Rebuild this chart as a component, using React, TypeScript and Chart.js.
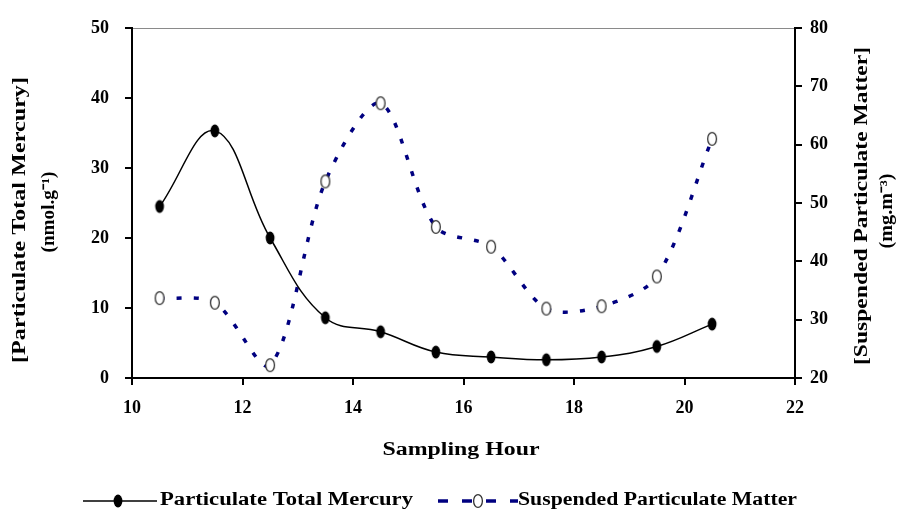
import React, { useEffect, useRef } from "react";
import { Chart, registerables } from "chart.js";

Chart.register(...registerables);

const hours = [10.5, 11.5, 12.5, 13.5, 14.5, 15.5, 16.5, 17.5, 18.5, 19.5, 20.5];
const mercury = [24.5, 35.3, 20.0, 8.6, 6.6, 3.7, 3.0, 2.6, 3.0, 4.5, 7.7];
const spm = [33.7, 32.9, 22.2, 53.7, 67.1, 45.9, 42.5, 31.9, 32.3, 37.4, 61.0];
const xTicks = [10, 12, 14, 16, 18, 20, 22];
const leftTicks = [0, 10, 20, 30, 40, 50];
const rightTicks = [20, 30, 40, 50, 60, 70, 80];

const seriesNames = ["Particulate Total Mercury", "Suspended Particulate Matter"];
const leftTitle = ["[Particulate Total Mercury]", "(nmol.g\u207B\u00B9)"];
const rightTitle = ["[Suspended Particulate Matter]", "(mg.m\u207B\u00B3)"];
const xTitle = "Sampling Hour";

const FONT = "'Liberation Serif', 'Times New Roman', serif";
const NAVY = "#000080";

function makeMarker(fill: string, stroke: string | null): HTMLCanvasElement {
  const c = document.createElement("canvas");
  c.width = 12;
  c.height = 16;
  const g = c.getContext("2d")!;
  g.beginPath();
  g.ellipse(6, 8, 4.4, 6.4, 0, 0, Math.PI * 2);
  g.fillStyle = fill;
  g.fill();
  if (stroke) {
    g.lineWidth = 1.3;
    g.strokeStyle = stroke;
    g.stroke();
  }
  return c;
}

function fitText(
  ctx: CanvasRenderingContext2D,
  text: string,
  cx: number,
  cy: number,
  w: number,
  size: number,
  rot: number
) {
  ctx.save();
  ctx.font = `bold ${size}px ${FONT}`;
  const m = ctx.measureText(text).width;
  ctx.translate(cx, cy);
  ctx.rotate(rot);
  ctx.scale(w / m, 1);
  ctx.textAlign = "center";
  ctx.textBaseline = "middle";
  ctx.fillStyle = "#000";
  ctx.fillText(text, 0, 0);
  ctx.restore();
}

export default function App() {
  const ref = useRef<HTMLCanvasElement | null>(null);

  useEffect(() => {
    const canvas = ref.current!;
    const hgMarker = makeMarker("#000", null);
    const spmMarker = makeMarker("#fff", "#333");

    const decor = {
      id: "decor",
      beforeDraw(chart: any) {
        const { ctx, chartArea: a } = chart;
        ctx.save();
        ctx.strokeStyle = "#8a8a8a";
        ctx.lineWidth = 1;
        ctx.strokeRect(a.left + 0.5, a.top + 0.5, a.right - a.left, a.bottom - a.top);
        ctx.restore();
      },
      afterDraw(chart: any) {
        const ctx: CanvasRenderingContext2D = chart.ctx;
        const up = -Math.PI / 2;
        // axis titles
        fitText(ctx, leftTitle[0], 20, 220, 286, 18, up);
        fitText(ctx, leftTitle[1], 49, 212, 81, 18, up);
        fitText(ctx, rightTitle[0], 862, 206, 318, 18, up);
        fitText(ctx, rightTitle[1], 887, 211, 75, 18, up);
        fitText(ctx, xTitle, 461, 450, 157, 18, 0);

        // legend
        const ly = 501;
        ctx.save();
        ctx.strokeStyle = "#000";
        ctx.lineWidth = 1.5;
        ctx.beginPath();
        ctx.moveTo(83, ly);
        ctx.lineTo(157, ly);
        ctx.stroke();
        ctx.drawImage(hgMarker, 118 - 6, ly - 8);
        fitText(ctx, seriesNames[0], 160 + 253 / 2, ly - 1, 253, 18, 0);

        ctx.strokeStyle = NAVY;
        ctx.lineWidth = 3.5;
        ctx.setLineDash([10, 14]);
        ctx.beginPath();
        ctx.moveTo(438, ly);
        ctx.lineTo(518, ly);
        ctx.stroke();
        ctx.setLineDash([]);
        ctx.drawImage(spmMarker, 478 - 6, ly - 8);
        fitText(ctx, seriesNames[1], 518 + 279 / 2, ly - 1, 279, 18, 0);
        ctx.restore();
      },
    };

    const tickFont = { family: FONT, size: 18, weight: "bold" as const };
    const grid = {
      display: true,
      drawOnChartArea: false,
      drawTicks: true,
      tickLength: 7,
      color: "#000",
      lineWidth: 2,
    };

    const chart = new Chart(canvas, {
      type: "line",
      data: {
        datasets: [
          {
            label: seriesNames[0],
            data: hours.map((h, i) => ({ x: h, y: mercury[i] })),
            yAxisID: "y",
            borderColor: "#000",
            borderWidth: 1.5,
            tension: 0.4,
            pointStyle: hgMarker as any,
            pointRadius: 6,
            fill: false,
          },
          {
            label: seriesNames[1],
            data: hours.map((h, i) => ({ x: h, y: spm[i] })),
            yAxisID: "y1",
            borderColor: NAVY,
            borderWidth: 3.5,
            borderDash: [5, 12],
            tension: 0.3,
            pointStyle: spmMarker as any,
            pointRadius: 6,
            fill: false,
          },
        ],
      },
      options: {
        animation: false,
        responsive: false,
        maintainAspectRatio: false,
        layout: { padding: { top: 28, left: 0, right: 0, bottom: 0 } },
        plugins: { legend: { display: false }, tooltip: { enabled: false } },
        scales: {
          x: {
            type: "linear",
            position: "bottom",
            min: 10,
            max: 22,
            afterBuildTicks: (s: any) => {
              s.ticks = xTicks.map((v) => ({ value: v }));
            },
            afterFit: (s: any) => {
              s.height = 135;
            },
            ticks: { font: tickFont, color: "#000", padding: 13, maxRotation: 0 },
            grid,
            border: { color: "#000", width: 2 },
          },
          y: {
            type: "linear",
            position: "left",
            min: 0,
            max: 50,
            afterBuildTicks: (s: any) => {
              s.ticks = leftTicks.map((v) => ({ value: v }));
            },
            afterFit: (s: any) => {
              s.width = 132;
            },
            ticks: { font: tickFont, color: "#000", padding: 16 },
            grid,
            border: { color: "#000", width: 2 },
          },
          y1: {
            type: "linear",
            position: "right",
            min: 20,
            max: 80,
            afterBuildTicks: (s: any) => {
              s.ticks = rightTicks.map((v) => ({ value: v }));
            },
            afterFit: (s: any) => {
              s.width = 108;
            },
            ticks: { font: tickFont, color: "#000", padding: 8 },
            grid,
            border: { color: "#000", width: 2 },
          },
        },
      } as any,
      plugins: [decor],
    });

    return () => chart.destroy();
  }, []);

  return (
    <div style={{ position: "fixed", left: 0, top: 0, width: 903, height: 513, background: "#fff" }}>
      <canvas ref={ref} width={903} height={513} style={{ width: 903, height: 513 }} />
    </div>
  );
}
